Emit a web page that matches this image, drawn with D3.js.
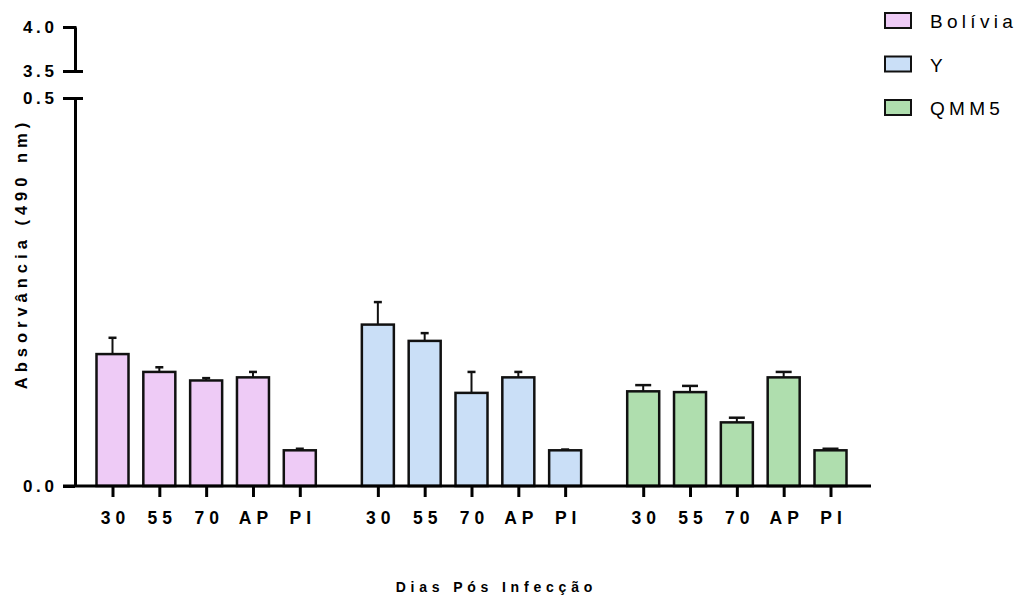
<!DOCTYPE html>
<html>
<head>
<meta charset="utf-8">
<script src="https://cdn.jsdelivr.net/npm/d3@7/dist/d3.min.js"></script>
<style>
  html, body { margin: 0; padding: 0; background: #fff; }
  svg { display: block; font-family: "Liberation Sans", Arial, sans-serif; }
</style>
</head>
<body>
<svg id="chart" width="1023" height="599"></svg>
<script>
// Absorbance (490 nm) by strain and days post infection
const groups = ["Bolívia", "Y", "QMM5"];
const days = ["30", "55", "70", "AP", "PI"];
const boliviaMean = [0.170, 0.147, 0.136, 0.140, 0.046];
const boliviaSem  = [0.021, 0.006, 0.003, 0.007, 0.002];
const yMean       = [0.208, 0.187, 0.120, 0.140, 0.046];
const ySem        = [0.029, 0.010, 0.027, 0.007, 0.001];
const qmm5Mean    = [0.122, 0.121, 0.082, 0.140, 0.046];
const qmm5Sem     = [0.008, 0.008, 0.006, 0.007, 0.002];
const fills = ["#EECBF6", "#CADFF7", "#AFDEAE"];
const lowTicks = [0, 0.5];
const highTicks = [3.5, 4.0];

const series = [
  { name: groups[0], mean: boliviaMean, sem: boliviaSem, fill: fills[0], cap: 8 },
  { name: groups[1], mean: yMean, sem: ySem, fill: fills[1], cap: 8 },
  { name: groups[2], mean: qmm5Mean, sem: qmm5Sem, fill: fills[2], cap: 16 }
];

const svg = d3.select("#chart");
const axisX = 75;
const baseY = 486;
const gapSlots = 0.667;

// slot position of bar i in group g (groups are separated by a gap)
const slot = (g, i) => g * (days.length + gapSlots) + i;
const lastSlot = slot(groups.length - 1, days.length - 1);
const x = d3.scaleLinear().domain([0, lastSlot]).range([112.5, 830.5]);
const barW = 32;

const yLow = d3.scaleLinear().domain([0, 0.5]).range([baseY, 98]);
const yHigh = d3.scaleLinear().domain([3.5, 4.0]).range([71, 27]);

// Bars with SEM error bars (upper half only)
series.forEach((s, g) => {
  const gg = svg.append("g");
  const rows = s.mean.map((m, i) => ({ m, e: s.sem[i], i }));
  gg.selectAll("line.err").data(rows).join("line")
    .attr("x1", d => x(slot(g, d.i)))
    .attr("x2", d => x(slot(g, d.i)))
    .attr("y1", d => yLow(d.m))
    .attr("y2", d => yLow(d.m + d.e))
    .attr("stroke", "#111").attr("stroke-width", 2);
  gg.selectAll("line.cap").data(rows).join("line")
    .attr("x1", d => x(slot(g, d.i)) - s.cap / 2)
    .attr("x2", d => x(slot(g, d.i)) + s.cap / 2)
    .attr("y1", d => yLow(d.m + d.e))
    .attr("y2", d => yLow(d.m + d.e))
    .attr("stroke", "#111").attr("stroke-width", 2.5);
  gg.selectAll("rect").data(rows).join("rect")
    .attr("x", d => x(slot(g, d.i)) - barW / 2)
    .attr("width", barW)
    .attr("y", d => yLow(d.m))
    .attr("height", d => baseY - yLow(d.m))
    .attr("fill", s.fill)
    .attr("stroke", "#111")
    .attr("stroke-width", 2.5);
});

// X axis
const tickSlots = [];
const tickLabels = [];
groups.forEach((_, g) => days.forEach((d, i) => { tickSlots.push(slot(g, i)); tickLabels.push(d); }));
const xLs = 5;
const xAxis = svg.append("g")
  .attr("transform", `translate(0,${baseY})`)
  .call(d3.axisBottom(x).tickValues(tickSlots).tickFormat((d, i) => tickLabels[i])
    .tickSize(11).tickSizeOuter(0).tickPadding(15));
xAxis.select(".domain").remove();
xAxis.selectAll(".tick line").attr("stroke", "#000").attr("stroke-width", 3);
xAxis.selectAll(".tick text")
  .attr("fill", "#000")
  .style("font-size", "17.5px").style("font-weight", "bold")
  .style("letter-spacing", xLs + "px")
  .attr("dx", (xLs / 2) + "px");
svg.append("line")
  .attr("x1", 63).attr("x2", 871)
  .attr("y1", baseY).attr("y2", baseY)
  .attr("stroke", "#000").attr("stroke-width", 3);

// Y axis in two segments around the break
const yLs = 3.7;
function styleY(sel) {
  sel.selectAll(".tick text")
    .attr("fill", "#000")
    .style("font-size", "17px").style("font-weight", "bold")
    .style("letter-spacing", yLs + "px")
    .attr("dx", yLs + "px");
  sel.selectAll(".tick line").attr("stroke", "#000").attr("stroke-width", 3);
  sel.select(".domain").attr("stroke", "#000").attr("stroke-width", 3);
}
const yAxLow = svg.append("g")
  .attr("transform", `translate(${axisX},0)`)
  .call(d3.axisLeft(yLow).tickValues(lowTicks).tickFormat(d3.format(".1f"))
    .tickSize(12).tickSizeOuter(0).tickPadding(9));
styleY(yAxLow);
yAxLow.selectAll(".tick line").attr("x1", -12).attr("x2", d => d === 0.5 ? 8 : 0);

const yAxHigh = svg.append("g")
  .attr("transform", `translate(${axisX},0)`)
  .call(d3.axisLeft(yHigh).tickValues(highTicks).tickFormat(d3.format(".1f"))
    .tickSize(12).tickSizeOuter(0).tickPadding(9));
styleY(yAxHigh);
yAxHigh.selectAll(".tick line").attr("x1", -12).attr("x2", d => d === 3.5 ? 8 : 1.5);

// Axis titles
svg.append("text")
  .attr("transform", "translate(27,256) rotate(-90)")
  .attr("text-anchor", "middle")
  .attr("dx", "2.5px")
  .style("font-size", "16.5px").style("font-weight", "bold")
  .style("letter-spacing", "5px")
  .text("Absorvância (490 nm)");
svg.append("text")
  .attr("x", 494).attr("y", 592)
  .attr("text-anchor", "middle")
  .attr("dx", "2.4px")
  .style("font-size", "14px").style("font-weight", "bold")
  .style("letter-spacing", "4.8px")
  .text("Dias Pós Infecção");

// Legend
const legend = svg.append("g").attr("transform", "translate(885,13)");
series.forEach((s, i) => {
  const row = legend.append("g").attr("transform", `translate(0,${i * 43.5})`);
  row.append("rect").attr("width", 26).attr("height", 15)
    .attr("fill", s.fill).attr("stroke", "#111").attr("stroke-width", 2);
  row.append("text").attr("x", 45).attr("y", 15)
    .style("font-size", "19px").style("letter-spacing", "4.3px")
    .text(s.name);
});
</script>
</body>
</html>
